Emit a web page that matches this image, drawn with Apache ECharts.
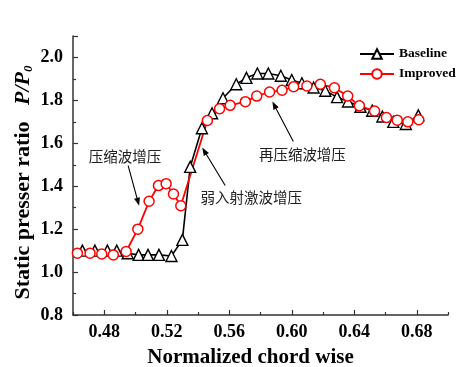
<!DOCTYPE html>
<html><head><meta charset="utf-8">
<script src="https://cdn.jsdelivr.net/npm/echarts@6/dist/echarts.min.js"></script>
<style>html,body{margin:0;padding:0;background:#fff}#c{width:458px;height:367px}</style>
</head><body><div id="c"></div>
<script>
// ---- data ----
const baselineX = [0.466,0.474,0.482,0.488,0.495,0.502,0.508,0.515,0.523,0.530,0.535,0.5425,0.549,0.556,0.5645,0.571,0.578,0.585,0.593,0.600,0.6065,0.614,0.6215,0.629,0.636,0.644,0.6515,0.658,0.665,0.673,0.681];
const baselineY = [1.10,1.10,1.10,1.10,1.088,1.08,1.08,1.08,1.075,1.15,1.49,1.67,1.74,1.81,1.875,1.905,1.925,1.925,1.915,1.895,1.88,1.86,1.845,1.815,1.795,1.77,1.752,1.725,1.70,1.69,1.73];
const improvedX = [0.4628,0.4709,0.4784,0.4858,0.494,0.5015,0.5087,0.5147,0.5196,0.5243,0.529,0.546,0.5538,0.5606,0.5703,0.5776,0.5858,0.5938,0.6012,0.6097,0.6183,0.6273,0.6358,0.6433,0.653,0.6606,0.6675,0.6743,0.6813];
const improvedY = [1.088,1.088,1.084,1.08,1.096,1.20,1.33,1.403,1.412,1.364,1.309,1.706,1.761,1.777,1.794,1.82,1.839,1.847,1.864,1.867,1.875,1.859,1.82,1.775,1.75,1.72,1.708,1.70,1.71];
const seriesNames = ['Baseline','Improved'];
const xMajorTicks = [0.48,0.52,0.56,0.60,0.64,0.68];
const xMinorTicks = [0.46,0.50,0.54,0.58,0.62,0.66,0.70];
// annotations: text, text anchor [x,y], arrow from [x,y], arrow tip [x,y] (data units)
const annTexts = ['压缩波增压','弱入射激波增压','再压缩波增压'];
const annTextAt = [[0.4933,1.538],[0.5741,1.347],[0.6068,1.548]];
const annFrom = [[0.4953,1.496],[0.5574,1.403],[0.601,1.608]];
const annTip = [[0.5023,1.309],[0.5427,1.580],[0.5876,1.795]];

const serif = '"Liberation Serif","Times New Roman",serif';
const zip = (a,b) => a.map((v,i)=>[v,b[i]]);

const chart = echarts.init(document.getElementById('c'), null, {renderer:'canvas'});
const axisLine = {lineStyle:{color:'#333', width:1.5}};
chart.setOption({
  animation:false,
  backgroundColor:'#fff',
  grid:{left:73, right:10, top:36, bottom:52, outerBoundsMode:'none', containLabel:false},
  legend:{
    orient:'vertical', left:354, top:42, itemGap:6, itemWidth:34, itemHeight:12,
    textStyle:{fontFamily:serif, fontWeight:'bold', fontSize:13.5, color:'#000'},
    data:seriesNames
  },
  xAxis:[{
    type:'value', min:0.46, max:0.70,
    axisLine:axisLine,
    axisTick:{inside:true, length:5, lineStyle:{color:'#333', width:1.2}, customValues:xMajorTicks},
    axisLabel:{customValues:xMajorTicks, margin:8, fontFamily:serif, fontWeight:'bold', fontSize:18, color:'#000', formatter:v=>v.toFixed(2)},
    splitLine:{show:false},
    name:'Normalized chord wise', nameLocation:'middle', nameGap:32, nameMoveOverlap:false,
    nameTextStyle:{fontFamily:serif, fontWeight:'bold', fontSize:21, color:'#000', padding:[0,20,0,0]}
  },{
    type:'value', min:0.46, max:0.70, position:'bottom',
    axisLine:{show:false},
    axisTick:{inside:true, length:3, lineStyle:{color:'#333', width:1.2}, customValues:xMinorTicks},
    axisLabel:{show:false}, splitLine:{show:false}
  }],
  yAxis:{
    type:'value', min:0.8, max:2.1, interval:0.2,
    axisLine:axisLine,
    axisTick:{inside:true, length:5, lineStyle:{color:'#333', width:1.2}},
    minorTick:{show:true, splitNumber:2, length:3, lineStyle:{color:'#333', width:1.2}},
    axisLabel:{showMaxLabel:false, margin:10, fontFamily:serif, fontWeight:'bold', fontSize:18, color:'#000', formatter:v=>v.toFixed(1)},
    splitLine:{show:false},
    name:'{a|Static presser ratio   }{i|P/P}{s|0}', nameLocation:'middle', nameGap:38, nameMoveOverlap:false,
    nameTextStyle:{
      padding:[0,14,0,0],
      rich:{
        a:{fontFamily:serif, fontWeight:'bold', fontSize:22, color:'#000', lineHeight:24},
        i:{fontFamily:serif, fontWeight:'bold', fontStyle:'italic', fontSize:22, color:'#000', lineHeight:24},
        s:{fontFamily:serif, fontWeight:'bold', fontStyle:'italic', fontSize:13, color:'#000', lineHeight:13, verticalAlign:'bottom'}
      }
    }
  },
  series:[{
    name:seriesNames[0], type:'line', data:zip(baselineX, baselineY),
    symbol:'triangle', symbolSize:11, showAllSymbol:true,
    lineStyle:{color:'#000', width:1.6},
    itemStyle:{color:'#fff', borderColor:'#000', borderWidth:1.4},
    color:'#000'
  },{
    name:seriesNames[1], type:'line', data:zip(improvedX, improvedY),
    symbol:'circle', symbolSize:10, showAllSymbol:true,
    lineStyle:{color:'#ff0000', width:1.8},
    itemStyle:{color:'#fff', borderColor:'#ff0000', borderWidth:1.5},
    color:'#ff0000'
  }]
});

// annotations placed through the chart's own coordinate conversion
const toPx = p => chart.convertToPixel({gridIndex:0}, p);
const g = [];
annTexts.forEach((t,i)=>{
  const tp = toPx(annTextAt[i]);
  g.push({type:'text', x:tp[0], y:tp[1], style:{text:t, fontFamily:'"Noto Sans CJK SC",sans-serif', fontSize:14.5, fill:'#222', align:'center', verticalAlign:'middle'}});
  const a = toPx(annFrom[i]), b = toPx(annTip[i]);
  const dx=b[0]-a[0], dy=b[1]-a[1], L=Math.hypot(dx,dy), ux=dx/L, uy=dy/L, nx=-uy, ny=ux;
  const hl=8, hw=3;
  g.push({type:'line', shape:{x1:a[0], y1:a[1], x2:b[0]-ux*hl*0.8, y2:b[1]-uy*hl*0.8}, style:{stroke:'#000', lineWidth:1.1}});
  g.push({type:'polygon', shape:{points:[[b[0],b[1]],[b[0]-ux*hl+nx*hw,b[1]-uy*hl+ny*hw],[b[0]-ux*hl-nx*hw,b[1]-uy*hl-ny*hw]]}, style:{fill:'#000'}});
});
chart.setOption({graphic:g});
</script></body></html>
